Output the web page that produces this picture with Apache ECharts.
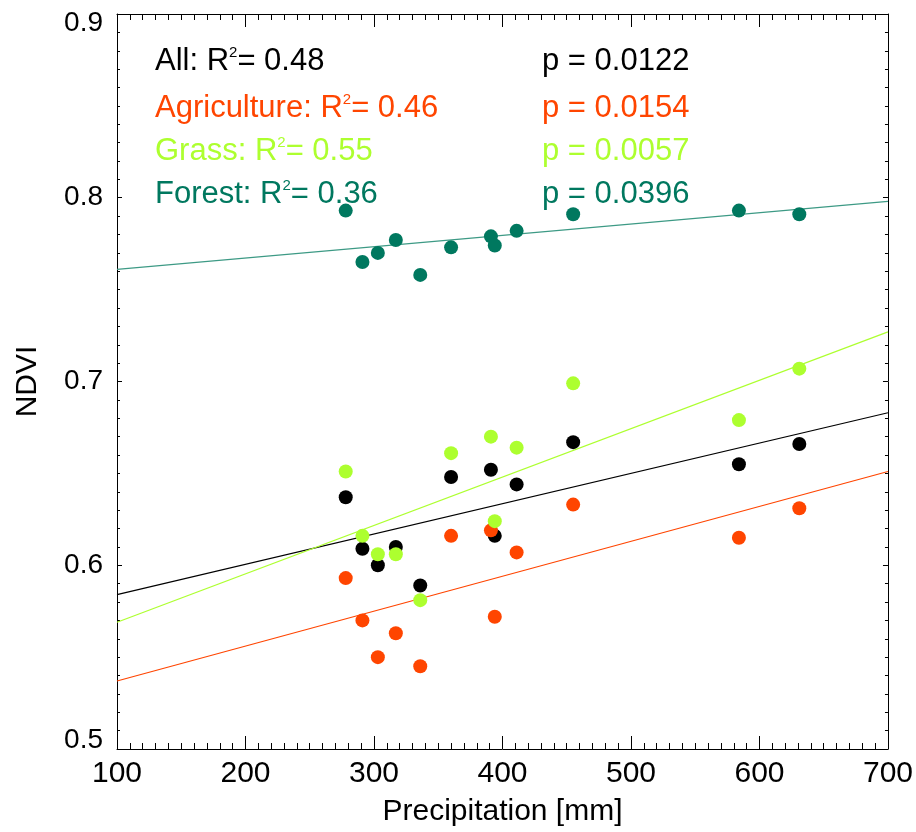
<!DOCTYPE html>
<html>
<head>
<meta charset="utf-8">
<script src="https://cdn.jsdelivr.net/npm/echarts@6/dist/echarts.min.js"></script>
<style>
html,body{margin:0;padding:0;background:#fff;}
#chart{width:916px;height:832px;}
</style>
</head>
<body>
<div id="chart"></div>
<script>
// ---- data ----
const precip = [278, 291, 303, 317, 336, 360, 391, 394, 411, 455, 584, 631];
const ndviAll = [0.637, 0.609, 0.600, 0.610, 0.589, 0.648, 0.652, 0.616, 0.644, 0.667, 0.655, 0.666];
const ndviAgriculture = [0.593, 0.570, 0.550, 0.563, 0.545, 0.616, 0.619, 0.572, 0.607, 0.633, 0.615, 0.631];
const ndviGrass = [0.651, 0.616, 0.606, 0.606, 0.581, 0.661, 0.670, 0.624, 0.664, 0.699, 0.679, 0.707];
const ndviForest = [0.793, 0.765, 0.770, 0.777, 0.758, 0.773, 0.779, 0.774, 0.782, 0.791, 0.793, 0.791];

const fitX = [100, 700];
const fitAll = [0.584, 0.683];
const fitAgriculture = [0.537, 0.651];
const fitGrass = [0.569, 0.727];
const fitForest = [0.761, 0.798];

const groupNames = ['All', 'Agriculture', 'Grass', 'Forest'];
const r2Values = ['0.48', '0.46', '0.55', '0.36'];
const pValues = ['0.0122', '0.0154', '0.0057', '0.0396'];

const xTicks = [100, 200, 300, 400, 500, 600, 700];
const yTicks = [0.5, 0.6, 0.7, 0.8, 0.9];

// ---- styling ----
const colors = ['#000000', '#FF4500', '#ADFF2F', '#00785F'];
const lineColors = ['#000000', '#FF4500', '#ADFF2F', '#3D9A85'];
const FONT = '"Liberation Sans", Arial, sans-serif';

const pts = (xs, ys) => xs.map((x, i) => [x, ys[i]]);
const groupsY = [ndviAll, ndviAgriculture, ndviGrass, ndviForest];
const groupsFit = [fitAll, fitAgriculture, fitGrass, fitForest];

const series = [];
groupsFit.forEach((f, i) => {
  series.push({
    type: 'line', data: pts(fitX, f), symbol: 'none', silent: true,
    lineStyle: {color: lineColors[i], width: 1.2}, z: 2
  });
});
groupsY.forEach((g, i) => {
  series.push({
    type: 'scatter', data: pts(precip, g), symbol: 'circle', symbolSize: 14,
    itemStyle: {color: colors[i], opacity: 1}, z: 3
  });
});

const graphics = [];
const rowY = [60, 107, 150, 193];
groupNames.forEach((n, i) => {
  graphics.push({
    type: 'text', left: 155, top: rowY[i] - 15,
    style: {
      text: '{n|' + n + ': R}{sup|2}{n|= ' + r2Values[i] + '}',
      rich: {
        n: {fill: colors[i], font: '31px ' + FONT, lineHeight: 32},
        sup: {fill: colors[i], font: '15px ' + FONT, verticalAlign: 'top', lineHeight: 32}
      }
    }
  });
  graphics.push({
    type: 'text', left: 542, top: rowY[i] - 15,
    style: {text: 'p = ' + pValues[i], fill: colors[i], font: '31px ' + FONT, lineHeight: 32}
  });
});

const xMin = xTicks[0], xMax = xTicks[xTicks.length - 1];
const yMin = yTicks[0], yMax = yTicks[yTicks.length - 1];

const axisLineStyle = {show: true, lineStyle: {color: '#000', width: 1}};

const chart = echarts.init(document.getElementById('chart'), null, {renderer: 'canvas'});
chart.setOption({
  animation: false,
  backgroundColor: '#fff',
  grid: {left: 117, right: 27, top: 14, bottom: 80, containLabel: false},
  xAxis: [{
    type: 'value', min: xMin, max: xMax, interval: 100, position: 'bottom',
    name: 'Precipitation [mm]', nameLocation: 'middle', nameGap: 48,
    nameTextStyle: {fontSize: 30, fontFamily: FONT, color: '#000'},
    axisLine: axisLineStyle,
    axisTick: {show: true, inside: true, length: 13, lineStyle: {color: '#000'}},
    minorTick: {show: true, splitNumber: 10, length: 6, lineStyle: {color: '#000'}},
    axisLabel: {fontSize: 30, fontFamily: FONT, color: '#000', margin: 10},
    splitLine: {show: false}
  }, {
    type: 'value', min: xMin, max: xMax, interval: 100, position: 'top',
    axisLine: axisLineStyle,
    axisTick: {show: true, inside: true, length: 13, lineStyle: {color: '#000'}},
    minorTick: {show: true, splitNumber: 10, length: 6, lineStyle: {color: '#000'}},
    axisLabel: {show: false}, splitLine: {show: false}
  }],
  yAxis: [{
    type: 'value', min: yMin, max: yMax, interval: 0.1, position: 'left',
    name: 'NDVI', nameLocation: 'middle', nameGap: 74, nameRotate: 90,
    nameTextStyle: {fontSize: 30, fontFamily: FONT, color: '#000'},
    axisLine: axisLineStyle,
    axisTick: {show: true, inside: true, length: 5, lineStyle: {color: '#000'}},
    minorTick: {show: true, splitNumber: 10, length: 3, lineStyle: {color: '#000'}},
    axisLabel: {
      fontSize: 28, fontFamily: FONT, color: '#000', margin: 14,
      formatter: function (v) {
        const s = v.toFixed(1);
        if (Math.abs(v - yMax) < 1e-9) return '{top|' + s + '}';
        if (Math.abs(v - yMin) < 1e-9) return '{bot|' + s + '}';
        return s;
      },
      rich: {
        top: {fontSize: 28, fontFamily: FONT, color: '#000', padding: [18, 0, 0, 0]},
        bot: {fontSize: 28, fontFamily: FONT, color: '#000', padding: [0, 0, 18, 0]}
      }
    },
    splitLine: {show: false}
  }, {
    type: 'value', min: yMin, max: yMax, interval: 0.1, position: 'right',
    axisLine: axisLineStyle,
    axisTick: {show: true, inside: true, length: 5, lineStyle: {color: '#000'}},
    minorTick: {show: true, splitNumber: 10, length: 3, lineStyle: {color: '#000'}},
    axisLabel: {show: false}, splitLine: {show: false}
  }],
  graphic: graphics,
  series: series
});
</script>
</body>
</html>
